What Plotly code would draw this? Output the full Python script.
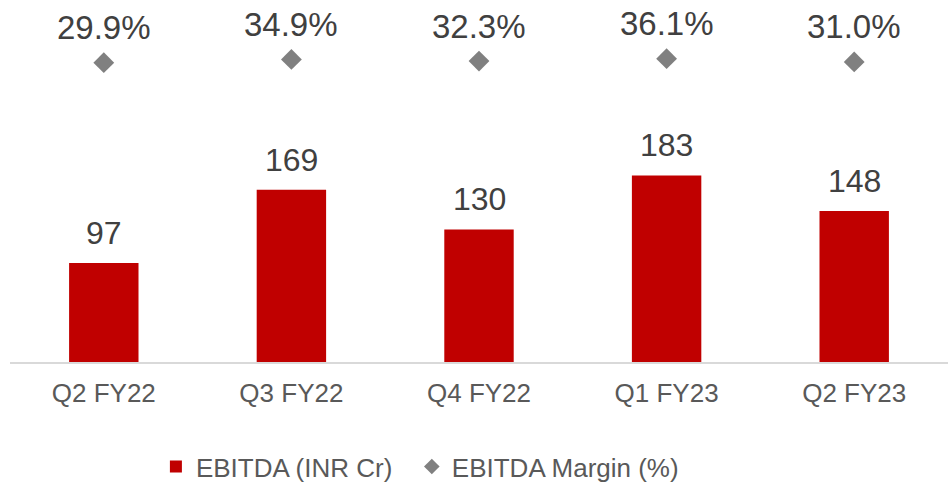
import plotly.graph_objects as go

categories = ["Q2 FY22", "Q3 FY22", "Q4 FY22", "Q1 FY23", "Q2 FY23"]
ebitda = [97, 169, 130, 183, 148]
margin_pct = [29.9, 34.9, 32.3, 36.1, 31.0]

FONT = "Liberation Sans, Arial, sans-serif"

fig = go.Figure()
fig.add_trace(go.Bar(
    x=categories, y=ebitda, name="EBITDA (INR Cr)\u00a0\u00a0",
    marker=dict(color="#C00000", line=dict(width=0)),
    width=0.37, yaxis="y",
))
fig.add_trace(go.Scatter(
    x=categories, y=margin_pct, name="EBITDA Margin (%)",
    mode="markers", marker=dict(symbol="diamond", size=16, color="#808080"),
    yaxis="y2",
))

annotations = []
for c, v in zip(categories, ebitda):
    annotations.append(dict(x=c, y=v, xref="x", yref="y", text=str(v),
                            showarrow=False, yanchor="bottom", yshift=10,
                            font=dict(family=FONT, size=32, color="#404040")))
for c, v in zip(categories, margin_pct):
    annotations.append(dict(x=c, y=v, xref="x", yref="y2", text=f"{v:.1f}%",
                            showarrow=False, yanchor="middle", yshift=35,
                            font=dict(family=FONT, size=33, color="#404040")))

fig.update_layout(
    width=948, height=487,
    margin=dict(l=10, r=0, t=0, b=125, autoexpand=False),
    plot_bgcolor="white", paper_bgcolor="white",
    font=dict(family=FONT, color="#595959"),
    xaxis=dict(showline=True, linecolor="#d9d9d9", linewidth=1.5, ticks="",
               tickfont=dict(size=26, color="#595959"), ticklabelstandoff=7,
               showgrid=False, automargin=False),
    yaxis=dict(range=[0, 355], visible=False, showgrid=False, automargin=False),
    yaxis2=dict(range=[-434, 127], overlaying="y", visible=False, showgrid=False,
                automargin=False),
    showlegend=True,
    legend=dict(orientation="h", x=0.437, xanchor="center",
                yref="container", y=0.09, yanchor="top",
                font=dict(size=26, color="#595959"), itemsizing="constant"),
    annotations=annotations,
)

fig.write_html("out.html",
               config={"displayModeBar": False},
               post_script="document.body.style.margin='0';document.body.style.padding='0';")
